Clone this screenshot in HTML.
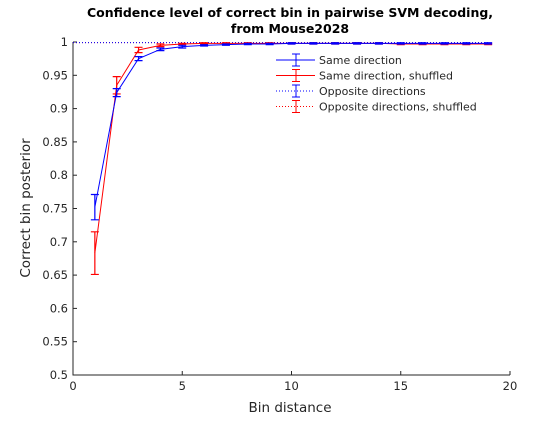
<!DOCTYPE html>
<html><head><meta charset="utf-8"><style>body{margin:0;background:#fff}svg{font-family:"DejaVu Sans","Liberation Sans",sans-serif}</style></head>
<body>
<svg width="560" height="420" id="c">
<rect width="560" height="420" fill="#fff"/>
<text x="290" y="17" text-anchor="middle" font-size="12.5" font-weight="bold">Confidence level of correct bin in pairwise SVM decoding,</text>
<text x="290" y="33" text-anchor="middle" font-size="12.5" font-weight="bold">from Mouse2028</text>
<g id="axes"></g>
<g id="plot"></g>
<text x="290" y="412" text-anchor="middle" font-size="13.5" fill="#262626">Bin distance</text>
<text transform="translate(30,208) rotate(-90)" text-anchor="middle" font-size="13.5" fill="#262626">Correct bin posterior</text>
<g id="legend"></g>
</svg>
<script>
const xTicks=[0,5,10,15,20];
const yTicks=[0.5,0.55,0.6,0.65,0.7,0.75,0.8,0.85,0.9,0.95,1];
const binX=[1,2,3,4,5,6,7,8,9,10,11,12,13,14,15,16,17,18,19];
const sameVals=[0.752,0.924,0.975,0.989,0.993,0.995,0.996,0.997,0.997,0.998,0.998,0.998,0.998,0.998,0.998,0.998,0.998,0.998,0.998];
const sameErr=[0.019,0.006,0.003,0.002,0.002,0.001,0.001,0.001,0.001,0.001,0.001,0.001,0.001,0.001,0.001,0.001,0.001,0.001,0.001];
const shufVals=[0.683,0.935,0.988,0.995,0.997,0.998,0.998,0.998,0.998,0.998,0.998,0.998,0.998,0.998,0.997,0.997,0.997,0.997,0.997];
const shufErr=[0.032,0.013,0.004,0.002,0.001,0.001,0.001,0.001,0.001,0.001,0.001,0.001,0.001,0.001,0.001,0.001,0.001,0.001,0.001];
const oppX=[0,1,2,3,4,5,6,7,8,9,10,11,12,13,14,15,16,17,18,19];
const oppVals=[0.999,0.999,0.999,0.999,0.999,0.999,0.999,0.999,0.999,0.999,0.999,0.999,0.999,0.999,0.999,0.999,0.999,0.999,0.999,0.999];
const oppShufVals=[0.999,0.999,0.999,0.999,0.999,0.999,0.999,0.999,0.999,0.999,0.999,0.999,0.999,0.999,0.999,0.999,0.999,0.999,0.999,0.999];
const L=73,R=510,T=42,B=375;
const sx=v=>L+(v-0)/(20-0)*(R-L);
const sy=v=>B-(v-0.5)/(1-0.5)*(B-T);
const NS="http://www.w3.org/2000/svg";
function mk(tag,attrs,parent){const e=document.createElementNS(NS,tag);for(const k in attrs)e.setAttribute(k,attrs[k]);parent.appendChild(e);return e;}
const ax=document.getElementById('axes'),pl=document.getElementById('plot'),lg=document.getElementById('legend');
const frame=mk('path',{d:`M${L},${T}V${B}H${R}`,fill:'none',stroke:'#262626','stroke-width':1},ax);


xTicks.forEach(t=>{
 const l=mk('line',{x1:sx(t),x2:sx(t),y1:B,y2:B-4,stroke:'#262626'},ax);
 
 
 const tx=mk('text',{x:sx(t),y:B+15,'text-anchor':'middle','font-size':11.5,fill:'#262626'},ax);tx.textContent=t;
 
 
});
yTicks.forEach(t=>{
 const l=mk('line',{x1:L,x2:L+4,y1:sy(t),y2:sy(t),stroke:'#262626'},ax);
 
 
 const tx=mk('text',{x:L-5,y:sy(t)+4,'text-anchor':'end','font-size':11.5,fill:'#262626'},ax);tx.textContent=String(t);
 
 
});
function series(xs,vs,es,color,dash,name){
 const g=mk('g',{},pl);
 
 
 mk('polyline',{points:xs.map((x,i)=>sx(x)+','+sy(vs[i])).join(' '),fill:'none',stroke:color,'stroke-width':1,'stroke-dasharray':dash||''},g);
 if(es)xs.forEach((x,i)=>{
  const X=sx(x),y1=sy(vs[i]-es[i]),y2=sy(vs[i]+es[i]);
  const p=mk('path',{d:`M${X},${y1}V${y2}M${X-4},${y1}H${X+4}M${X-4},${y2}H${X+4}`,stroke:color,'stroke-width':1.2,fill:'none'},g);
  
  
 });
}
series(oppX,oppShufVals,null,'red','1,2','opposite-shuffled-line');
series(oppX,oppVals,null,'blue','1,2','opposite-line');
series(binX,shufVals,shufErr,'red','','same-shuffled-line');
series(binX,sameVals,sameErr,'blue','','same-line');
const items=[['Same direction','blue','','blue'],['Same direction, shuffled','red','','red'],['Opposite directions','blue','1,2','blue'],['Opposite directions, shuffled','red','1,2','red']];
items.forEach((it,i)=>{
 const y=60+i*15.5;
 const g=mk('g',{},lg);
 
 
 mk('line',{x1:276,x2:315,y1:y,y2:y,stroke:it[1],'stroke-dasharray':it[2]},g);
 mk('path',{d:`M296,${y-6}V${y+6}M292,${y-6}H300M292,${y+6}H300`,stroke:it[3],fill:'none'},g);
 const t=mk('text',{x:319,y:y+4,'font-size':11,fill:'#262626'},g);t.textContent=it[0];
});
</script>
</body></html>
